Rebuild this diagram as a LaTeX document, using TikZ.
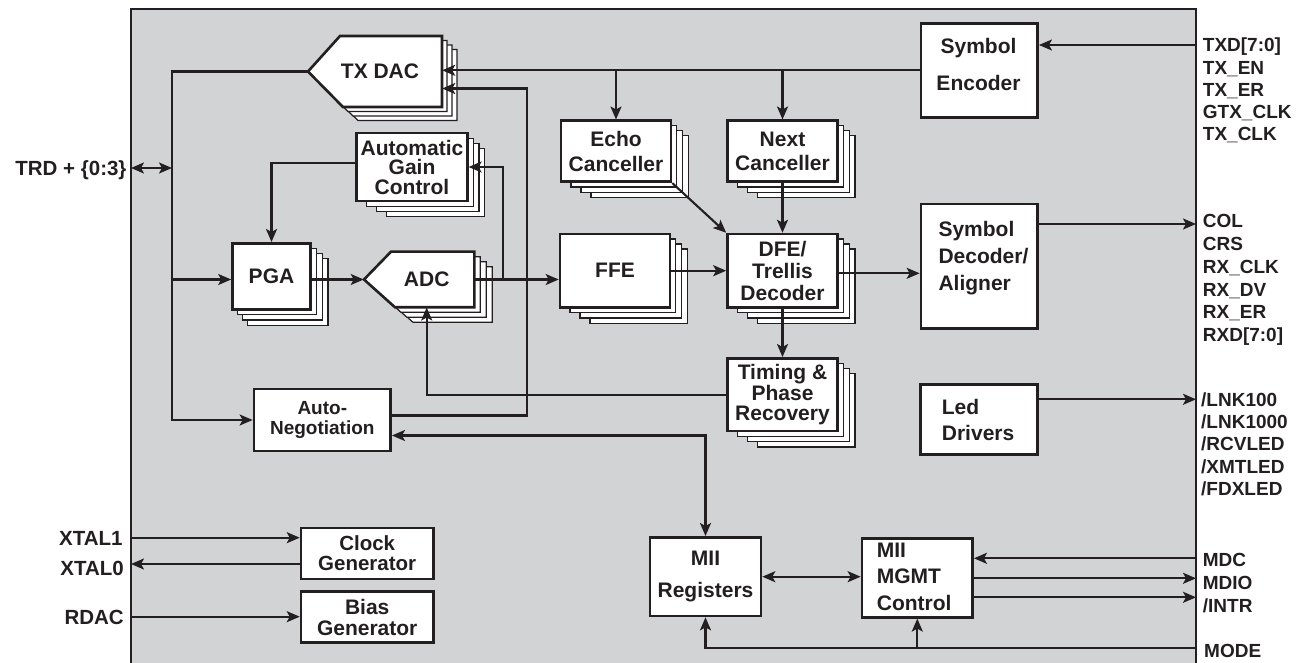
\documentclass[tikz,border=0pt]{standalone}
\usepackage{fontspec}
\setmainfont{Liberation Sans}
\usetikzlibrary{arrows.meta}
\definecolor{ink}{RGB}{35,31,32}
\definecolor{panel}{RGB}{209,211,212}
\newcommand\fs[2]{\fontsize{#1}{#2}\selectfont\bfseries}
% stacked box: name, cx, cy, w, h, leftstep, options, text
\newcommand\stk[8]{%
  \foreach \i in {3,2,1}{%
    \path[shd] ({#2-#4/2+#6*\i},{#3-#5/2+5*\i}) rectangle ({#2+#4/2+5.8*\i},{#3+#5/2+5.3*\i});}%
  \node[blk, minimum width=#4, minimum height=#5, #7] (#1) at (#2,#3) {#8};}
\tikzset{
  blk/.style={draw=ink, line width=2.6pt, fill=white, inner sep=0pt, align=center, text=ink, font=\fs{21}{22}},
  shd/.style={draw=ink, line width=1.2pt, fill=white},
  wire/.style={draw=ink, line width=2.1pt},
  arr/.style={wire, -{Stealth[length=13pt,width=11pt,inset=3pt]}},
  biarr/.style={wire, {Stealth[length=13pt,width=11pt,inset=3pt]}-{Stealth[length=13pt,width=11pt,inset=3pt]}},
  txt/.style={inner sep=0pt, text=ink, font=\fs{21}{22}},
  pinr/.style={inner sep=0pt, text=ink, font=\fs{19}{22}, anchor=base west},
  pinl/.style={inner sep=0pt, text=ink, font=\fs{20.5}{22}, anchor=base east},
}
\begin{document}
\begin{tikzpicture}[x=1pt,y=-1pt,line join=miter]
\useasboundingbox (0,0) rectangle (1302,663);
% panel
\fill[panel] (131,9) rectangle (1196,672);
\draw[ink, line width=2.8pt] (131,672) -- (131,9) -- (1196,9) -- (1196,672);

% TX DAC
\foreach \i in {3,2,1}{\path[shd, shift={(5*\i,4.5*\i)}] (308,71.5) -- (340,36) -- (442,36) -- (442,107) -- (343,107) -- cycle;}
\path[draw=ink, line width=2.6pt, fill=white] (308,71.5) -- (340,36) -- (442,36) -- (442,107) -- (343,107) -- cycle;
\node[txt, minimum width=124, minimum height=71] (txdac) at (380,71.5) {TX DAC};
% ADC
\foreach \i in {3,2,1}{\path[shd, shift={(6*\i,5*\i)}] (364,279.5) -- (391,251.7) -- (474.3,251.7) -- (474.3,307.3) -- (395,307.3) -- cycle;}
\path[draw=ink, line width=2.6pt, fill=white] (364,279.5) -- (391,251.7) -- (474.3,251.7) -- (474.3,307.3) -- (395,307.3) -- cycle;
\node[txt, minimum width=95.2, minimum height=55.6] (adc) at (426.7,279.5) {ADC};

% stacked blocks
\stk{agc}{412}{167}{110.6}{67.7}{10}{font=\fs{21}{19.5}}{Automatic\\Gain\\Control}
\stk{pga}{271.5}{276.3}{78}{66}{5}{}{PGA}
\stk{echo}{616}{151.3}{110}{61}{10}{font=\fs{21}{25}}{Echo\\Canceller}
\stk{next}{782.5}{151.3}{110}{61}{10}{font=\fs{21}{23.3}}{Next\\Canceller}
\stk{ffe}{615}{270.7}{110}{73.3}{10}{}{FFE}
\stk{dfe}{782.5}{270.7}{110}{73.3}{10}{font=\fs{21}{22}}{DFE/\\Trellis\\Decoder}
\stk{timing}{782.5}{394.7}{110}{72.7}{10}{font=\fs{21}{20.3}}{Timing \&\\Phase\\Recovery}

% plain blocks
\node[blk, minimum width=116.7, minimum height=94] (symenc) at (979.3,70.3) {};
\node[txt, font=\fs{21}{36.7}, align=center] (symenc-t) at (978.5,64.3) {Symbol\\Encoder};
\node[blk, minimum width=116.7, minimum height=124.3] (symdec) at (979.3,266.2) {};
\node[txt, font=\fs{21}{26.7}, align=left, anchor=west] (symdec-t) at (938.3,258.3) {Symbol\\Decoder/\\Aligner};
\node[blk, minimum width=116.7, minimum height=70] (led) at (979,419.3) {};
\node[txt, font=\fs{21}{26.6}, align=left, anchor=west] (led-t) at (941.7,420) {Led\\Drivers};
\node[blk, minimum width=136.7, minimum height=62, font=\fs{19}{20.7}] (autoneg) at (322.3,420) {Auto-\\Negotiation};
\node[blk, minimum width=132.3, minimum height=51, font=\fs{20.5}{19.5}] (clk) at (367.2,553.3) {Clock\\Generator};
\node[blk, minimum width=132.3, minimum height=51, font=\fs{21}{21}] (bias) at (367.2,617.2) {Bias\\Generator};
\node[blk, minimum width=111, minimum height=78.7, font=\fs{21}{31.6}] (miireg) at (705.5,576.7) {MII\\Registers};
\node[blk, minimum width=110.7, minimum height=79] (mgmt) at (917.3,577.8) {};
\node[txt, font=\fs{21}{26.4}, align=left, anchor=west] (mgmt-t) at (876.7,576.5) {MII\\MGMT\\Control};

% pins
\coordinate (pTXD) at (1196,45);
\coordinate (pCOL) at (1196,224);
\coordinate (pLNK) at (1196,399.3);
\coordinate (pMDC) at (1196,558.3);
\coordinate (pMDIO) at (1196,578.3);
\coordinate (pINTR) at (1196,597.3);
\coordinate (pMODE) at (1196,648.3);
\coordinate (pTRD) at (131,168);
\coordinate (pX1) at (131,537.7);
\coordinate (pX0) at (131,564);
\coordinate (pRD) at (131,616.7);

% labels
\foreach \lbl [count=\k] in {TXD[7:0],TX\_EN,TX\_ER,GTX\_CLK,TX\_CLK}
  \node[pinr] (ta\k) at (1202.7,{51.8+22.3*(\k-1)}) {\lbl};
\foreach \lbl [count=\k] in {COL,CRS,RX\_CLK,RX\_DV,RX\_ER,RXD[7:0]}
  \node[pinr] (rb\k) at (1202.7,{227.8+22.8*(\k-1)}) {\lbl};
\foreach \lbl [count=\k] in {/LNK100,/LNK1000,/RCVLED,/XMTLED,/FDXLED}
  \node[pinr] (lc\k) at (1201,{406.1+22.35*(\k-1)}) {\lbl};
\foreach \lbl [count=\k] in {MDC,MDIO,/INTR}
  \node[pinr] (md\k) at (1202.7,{566.8+22.85*(\k-1)}) {\lbl};
\node[pinr] (mode) at (1204,657.8) {MODE};
\node[pinl] (trd) at (126.7,175.6) {TRD + \{0:3\}};
\node[pinl] (xt1) at (122.7,545) {XTAL1};
\node[pinl] (xt0) at (124,575) {XTAL0};
\node[pinl] (rdac) at (124,624) {RDAC};

% connectors
\coordinate (txtip) at ([xshift=-10pt]txdac.west);
\coordinate (adctip) at ([xshift=-15.2pt]adc.west);
\coordinate (busx) at (172,0);
\coordinate (anx) at (526.7,88.5);
\draw[arr] (txtip) -- (txtip -| busx) |- (autoneg.west);
\draw[biarr] (pTRD) -- (pTRD -| busx);
\draw[arr] (adctip -| busx) -- (adctip -| pga.west);
\draw[arr] (adctip -| pga.east) -- (adctip);
\draw[arr] (adc.east) -- (adc.east -| ffe.west);
\draw[arr] ([xshift=28.4pt]adc.east) |- (agc.east);
\draw[arr] ([yshift=4pt]agc.west) -| (pga.north);
\draw[arr] (symenc.west) -- (symenc.west -| txdac.east);
\draw[arr] (symenc.west -| echo.north) -- (echo.north);
\draw[arr] (symenc.west -| next.north) -- (next.north);
\draw[arr] ([yshift=4.5pt]autoneg.east) -| (anx) -- (anx -| txdac.east);
\draw[arr] (timing.west) -| (adc.south);
\draw[arr] (echo.south east) -- (dfe.north west);
\draw[arr] (next.south) -- (dfe.north);
\draw[arr] (ffe.east) -- (ffe.east -| dfe.west);
\draw[arr] ([yshift=-2.6pt]dfe.east) -- ([yshift=-2.6pt]dfe.east -| symdec.west);
\draw[arr] (dfe.south) -- (timing.north);
\draw[biarr] ([yshift=-15.5pt]autoneg.east) -| (miireg.north);
\draw[biarr] (miireg.east) -- (miireg.east -| mgmt.west);
\draw[arr] (pMDC) -- (pMDC -| mgmt.east);
\draw[arr] (pMDIO -| mgmt.east) -- (pMDIO);
\draw[arr] (pINTR -| mgmt.east) -- (pINTR);
\draw[arr] (pMODE) -| (miireg.south);
\draw[arr] (pMODE -| mgmt.south) -- (mgmt.south);
\draw[arr] (pTXD) -- (pTXD -| symenc.east);
\draw[arr] (pCOL -| symdec.east) -- (pCOL);
\draw[arr] (pLNK -| led.east) -- (pLNK);
\draw[arr] (pX1) -- (pX1 -| clk.west);
\draw[arr] (pX0 -| clk.west) -- (pX0);
\draw[arr] (pRD) -- (pRD -| bias.west);
\end{tikzpicture}
\end{document}
